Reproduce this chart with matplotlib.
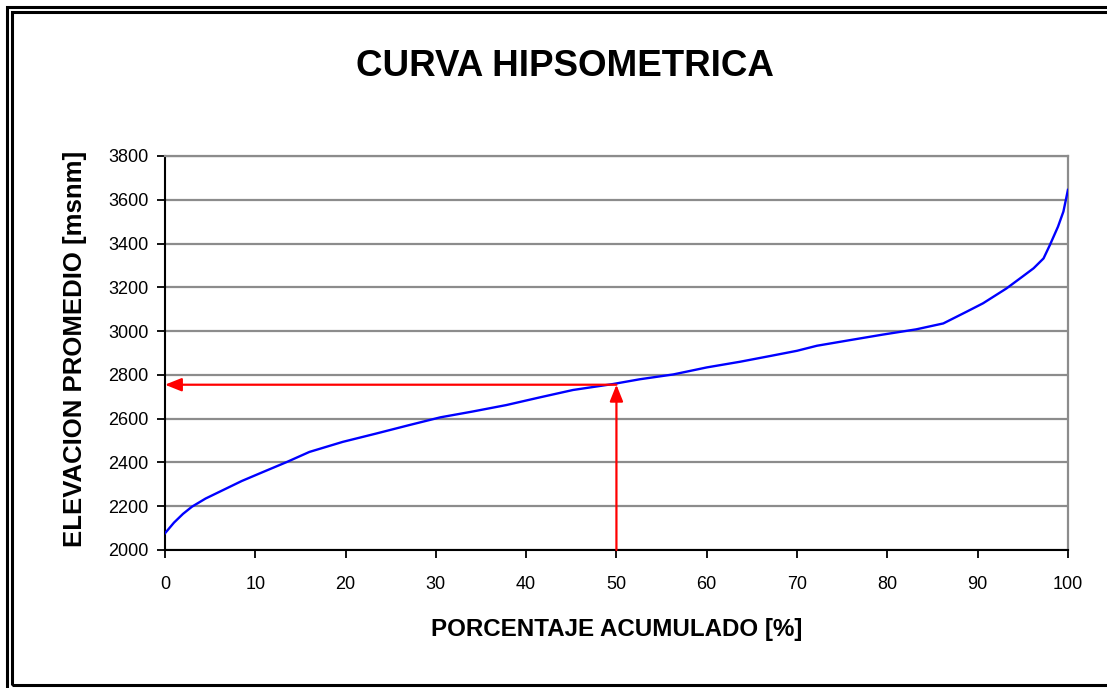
import matplotlib.pyplot as plt
from matplotlib.patches import Rectangle

# Hypsometric curve: cumulative area percentage vs mean elevation
porcentaje = [0, 1, 2, 3, 4.5, 6.8, 8.5, 10.5, 13.5, 16, 19.7, 23.4, 27, 30.5,
              34, 37.8, 41.5, 45.2, 49.6, 52.6, 56.3, 60, 63.7, 67, 70, 72.2,
              75.9, 79.5, 83.2, 86.2, 88.8, 90.6, 93.2, 95, 96.2, 97.3, 98,
              98.9, 99.5, 100]
elevacion = [2076, 2125, 2165, 2198, 2235, 2281, 2315, 2350, 2402, 2448, 2494,
             2532, 2570, 2606, 2632, 2662, 2697, 2731, 2758, 2780, 2802, 2834,
             2860, 2886, 2910, 2933, 2959, 2984, 3008, 3035, 3089, 3127, 3195,
             3250, 3287, 3332, 3393, 3477, 3546, 3645]

# median elevation read at 50 %
pct_mediana = 50
elev_mediana = 2755

xticks = list(range(0, 101, 10))
yticks = list(range(2000, 3801, 200))

plt.rcParams['font.family'] = ['Liberation Sans', 'DejaVu Sans']

fig = plt.figure(figsize=(11.07, 6.88), dpi=100)
ax = fig.add_axes([0.149, 0.2006, 0.8157, 0.5727])

ax.plot(porcentaje, elevacion, color='#0000ff', lw=1.7, zorder=3)

# arrows for the median elevation
flecha = dict(arrowstyle='-|>,head_length=1.0,head_width=0.4',
              color='#ff0000', lw=1.6, mutation_scale=10,
              shrinkA=0, shrinkB=0)
ax.annotate('', xy=(0, elev_mediana), xytext=(pct_mediana, elev_mediana),
            arrowprops=flecha, zorder=4)
ax.annotate('', xy=(pct_mediana, elev_mediana), xytext=(pct_mediana, 2000),
            arrowprops=flecha, zorder=4)

ax.set_xlim(0, 100)
ax.set_ylim(2000, 3800)
ax.set_xticks(xticks)
ax.set_yticks(yticks)
ax.yaxis.grid(True, color='#8c8c8c', lw=1.6)
ax.set_axisbelow(True)

for s in ['left', 'bottom']:
    ax.spines[s].set_color('black')
    ax.spines[s].set_linewidth(1.5)
for s in ['top', 'right']:
    ax.spines[s].set_color('#8c8c8c')
    ax.spines[s].set_linewidth(1.6)

ax.tick_params(direction='out', length=6, width=1.3, colors='black',
               labelsize=13)
ax.tick_params(axis='x', pad=13)
ax.tick_params(axis='y', pad=6)

ax.set_xlabel('PORCENTAJE ACUMULADO [%]', fontsize=17.4, fontweight='bold')
ax.xaxis.set_label_coords(0.5, -0.1726)
ax.set_ylabel('ELEVACION PROMEDIO [msnm]', fontsize=18.5, fontweight='bold')
ax.yaxis.set_label_coords(-0.086, 0.51)
fig.text(0.51, 0.904, 'CURVA HIPSOMETRICA', fontsize=26.5,
         fontweight='bold', ha='center', va='center')

# double frame around the chart
W, H = 1107, 688
fig.patches.append(Rectangle((6.5 / W, -0.1), 1.2, 1 - 6.5 / H + 0.1,
                             transform=fig.transFigure, fill=False,
                             ec='black', lw=2.2))
fig.patches.append(Rectangle((11.5 / W, 1 - 685 / H), 1.2,
                             (685 - 11.5) / H, transform=fig.transFigure,
                             fill=False, ec='black', lw=2.2))

fig.savefig('out.png', dpi=100, facecolor='white')
